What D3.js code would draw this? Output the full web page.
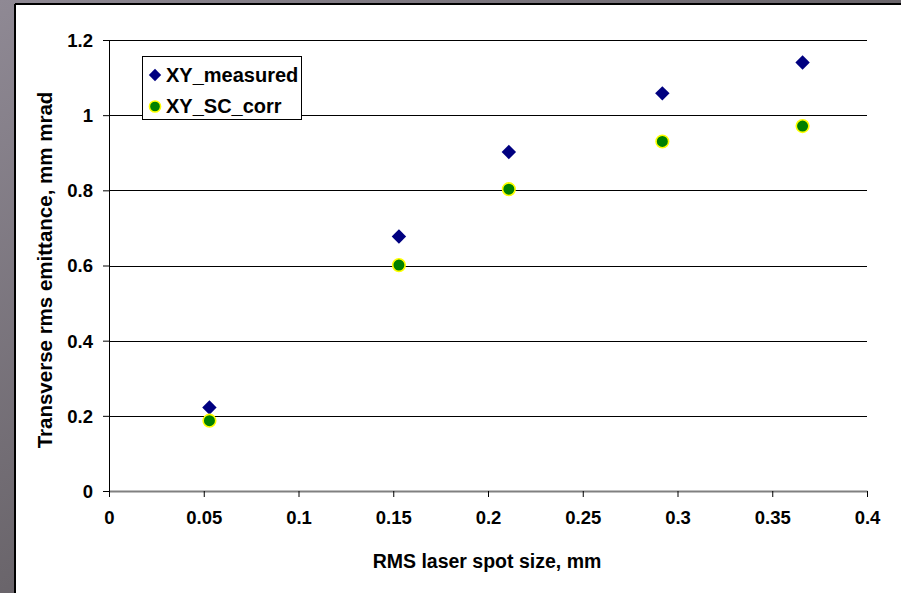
<!DOCTYPE html>
<html>
<head>
<meta charset="utf-8">
<script src="https://cdn.jsdelivr.net/npm/d3@7"></script>
<style>
  html, body { margin: 0; padding: 0; overflow: hidden; }
  svg { display: block; }
  text { font-family: "Liberation Sans", Arial, sans-serif; font-weight: bold; fill: #000; }
</style>
</head>
<body>
<script>
// ---- data ----
const spotSize = [0.053, 0.153, 0.211, 0.292, 0.366];
const xyMeasured = [0.222, 0.677, 0.902, 1.058, 1.140];
const xySCcorr = [0.187, 0.601, 0.803, 0.930, 0.971];
const xTicks = [0, 0.05, 0.1, 0.15, 0.2, 0.25, 0.3, 0.35, 0.4];
const yTicks = [0, 0.2, 0.4, 0.6, 0.8, 1, 1.2];
const seriesNames = ["XY_measured", "XY_SC_corr"];
const xTitle = "RMS laser spot size, mm";
const yTitle = "Transverse rms emittance, mm mrad";

const W = 901, H = 593;
const svg = d3.select("body").append("svg").attr("width", W).attr("height", H);

// background frame gradient
const defs = svg.append("defs");
const grad = defs.append("linearGradient").attr("id", "bg")
  .attr("x1", "0").attr("y1", "0").attr("x2", "1").attr("y2", "1");
grad.append("stop").attr("offset", "0").attr("stop-color", "#8f8994");
grad.append("stop").attr("offset", "0.5").attr("stop-color", "#6a656b");
grad.append("stop").attr("offset", "1").attr("stop-color", "#55535a");
svg.append("rect").attr("width", W).attr("height", H).attr("fill", "url(#bg)");

// white chart area
svg.append("rect").attr("x", 15).attr("y", 4).attr("width", W - 15).attr("height", H - 4).attr("fill", "#fff");
svg.append("line").attr("x1", 15).attr("x2", W).attr("y1", 4).attr("y2", 4).attr("stroke", "#000").attr("stroke-width", 2);
svg.append("line").attr("x1", 15).attr("x2", 15).attr("y1", 4).attr("y2", H).attr("stroke", "#000").attr("stroke-width", 2);

// scales
const x = d3.scaleLinear().domain([0, 0.4]).range([109, 867]);
const y = d3.scaleLinear().domain([0, 1.2]).range([491, 40]);
const fmt = d3.format("~g");
const crisp = v => Math.round(v) + 0.5;

// gridlines
svg.append("g").selectAll("line").data(yTicks.filter(d => d > 0)).join("line")
  .attr("x1", x(0)).attr("x2", x(0.4))
  .attr("y1", d => crisp(y(d))).attr("y2", d => crisp(y(d)))
  .attr("stroke", "#000").attr("stroke-width", 1);

// x axis
const xAxis = d3.axisBottom(x).tickValues(xTicks).tickFormat(fmt).tickSize(6).tickSizeOuter(0);
const gx = svg.append("g").attr("transform", `translate(0,${Math.round(y(0))})`).call(xAxis);
gx.select(".domain").attr("stroke", "#808080").attr("stroke-width", 2);
gx.selectAll(".tick line").attr("stroke", "#000");
gx.selectAll(".tick text").attr("font-size", 18.5).attr("y", 20).attr("dy", "0.71em")
  .attr("font-family", "Liberation Sans, Arial, sans-serif").attr("font-weight", "bold").attr("fill", "#000");

// y axis
const yAxis = d3.axisLeft(y).tickValues(yTicks).tickFormat(fmt).tickSize(6).tickSizeOuter(0);
const gy = svg.append("g").attr("transform", `translate(${crisp(x(0)) - 0.5},0)`).call(yAxis);
gy.select(".domain").attr("stroke", "#000").attr("d", `M0.5,${y(1.2)}V${y(0) + 6}`);
gy.selectAll(".tick line").attr("stroke", "#000");
gy.selectAll(".tick text").attr("font-size", 18.5).attr("x", -16).attr("dy", "0.35em")
  .attr("font-family", "Liberation Sans, Arial, sans-serif").attr("font-weight", "bold").attr("fill", "#000");

// axis titles
svg.append("text").attr("x", 487).attr("y", 568).attr("text-anchor", "middle")
  .attr("font-size", 19.5).text(xTitle);
svg.append("text").attr("transform", `translate(52,270) rotate(-90)`).attr("text-anchor", "middle")
  .attr("font-size", 20.5).text(yTitle);

// points
const pts1 = spotSize.map((s, i) => [s, xyMeasured[i]]);
const pts2 = spotSize.map((s, i) => [s, xySCcorr[i]]);
svg.append("g").selectAll("path").data(pts1).join("path")
  .attr("transform", d => `translate(${x(d[0])},${y(d[1])}) rotate(45)`)
  .attr("d", d3.symbol().type(d3.symbolSquare).size(104)())
  .attr("fill", "#000080");
svg.append("g").selectAll("circle").data(pts2).join("circle")
  .attr("cx", d => x(d[0])).attr("cy", d => y(d[1])).attr("r", 6.3)
  .attr("fill", "#008000").attr("stroke", "#ffff00").attr("stroke-width", 1.6);

// legend
const lg = svg.append("g");
lg.append("rect").attr("x", 142.5).attr("y", 56.5).attr("width", 159).attr("height", 63)
  .attr("fill", "#fff").attr("stroke", "#000").attr("stroke-width", 1);
lg.append("path").attr("transform", "translate(155,75) rotate(45)")
  .attr("d", d3.symbol().type(d3.symbolSquare).size(76)()).attr("fill", "#000080");
lg.append("circle").attr("cx", 155).attr("cy", 106.5).attr("r", 5.6)
  .attr("fill", "#008000").attr("stroke", "#ffff00").attr("stroke-width", 1.5);
lg.selectAll("text").data(seriesNames).join("text")
  .attr("x", 166).attr("y", (d, i) => i === 0 ? 82 : 113)
  .attr("font-size", 20).text(d => d);
</script>
</body>
</html>
